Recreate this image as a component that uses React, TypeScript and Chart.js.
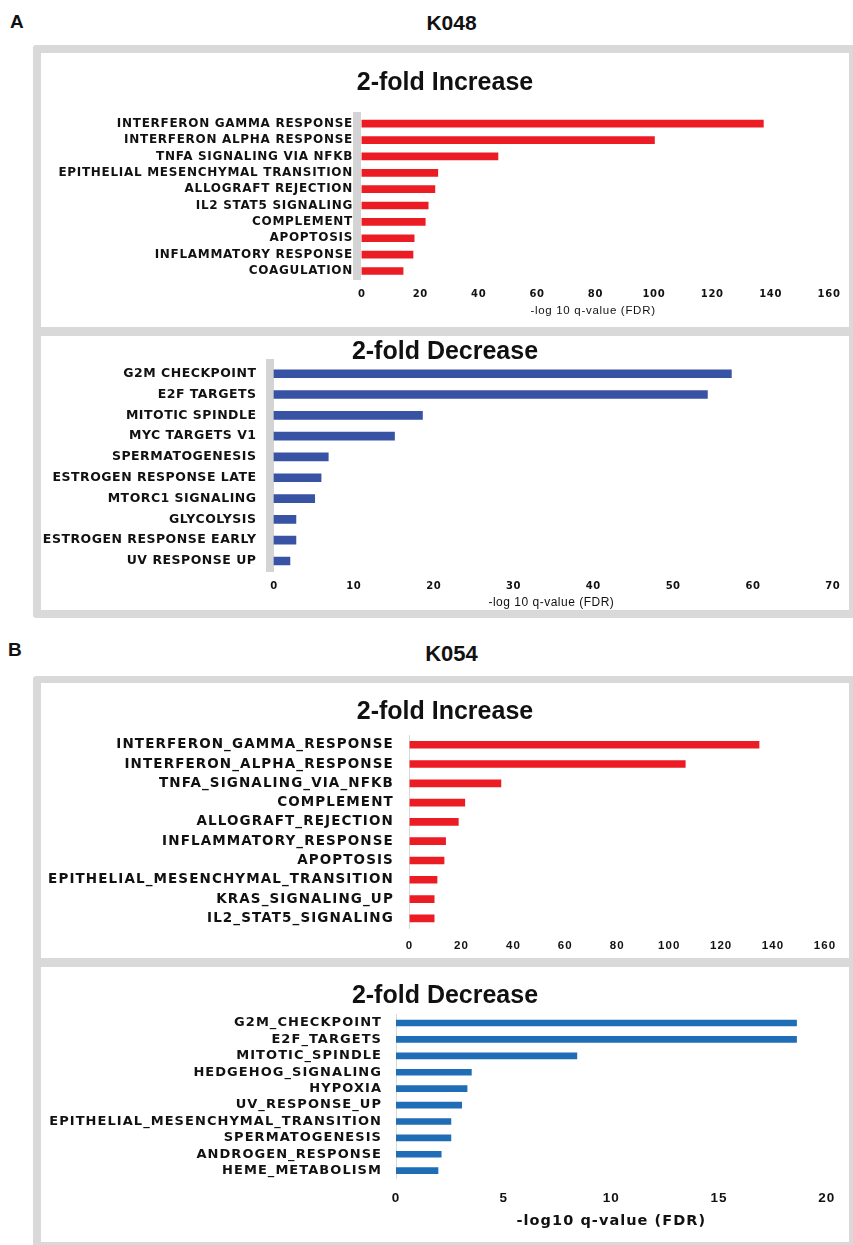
import React, { useEffect, useRef } from 'react';
import { Chart, registerables } from 'chart.js';

Chart.register(...registerables);

const FONT = '"Liberation Sans", Arial, Helvetica, sans-serif';
const WIDE = '"DejaVu Sans", "Liberation Sans", Arial, sans-serif';

// ---------- Data ----------
const k048UpLabels = [
  'INTERFERON GAMMA RESPONSE',
  'INTERFERON ALPHA RESPONSE',
  'TNFA SIGNALING VIA NFKB',
  'EPITHELIAL MESENCHYMAL TRANSITION',
  'ALLOGRAFT REJECTION',
  'IL2 STAT5 SIGNALING',
  'COMPLEMENT',
  'APOPTOSIS',
  'INFLAMMATORY RESPONSE',
  'COAGULATION',
];
const k048UpValues = [137.5, 100.2, 46.6, 26.0, 25.0, 22.7, 21.7, 17.9, 17.5, 14.1];
const k048UpTicks = [0, 20, 40, 60, 80, 100, 120, 140, 160];

const k048DownLabels = [
  'G2M CHECKPOINT',
  'E2F TARGETS',
  'MITOTIC SPINDLE',
  'MYC TARGETS V1',
  'SPERMATOGENESIS',
  'ESTROGEN RESPONSE LATE',
  'MTORC1 SIGNALING',
  'GLYCOLYSIS',
  'ESTROGEN RESPONSE EARLY',
  'UV RESPONSE UP',
];
const k048DownValues = [57.3, 54.3, 18.6, 15.1, 6.8, 5.9, 5.1, 2.75, 2.75, 2.0];
const k048DownTicks = [0, 10, 20, 30, 40, 50, 60, 70];

const k054UpLabels = [
  'INTERFERON_GAMMA_RESPONSE',
  'INTERFERON_ALPHA_RESPONSE',
  'TNFA_SIGNALING_VIA_NFKB',
  'COMPLEMENT',
  'ALLOGRAFT_REJECTION',
  'INFLAMMATORY_RESPONSE',
  'APOPTOSIS',
  'EPITHELIAL_MESENCHYMAL_TRANSITION',
  'KRAS_SIGNALING_UP',
  'IL2_STAT5_SIGNALING',
];
const k054UpValues = [134.6, 106.2, 35.2, 21.3, 18.8, 13.9, 13.3, 10.6, 9.5, 9.5];
const k054UpTicks = [0, 20, 40, 60, 80, 100, 120, 140, 160];

const k054DownLabels = [
  'G2M_CHECKPOINT',
  'E2F_TARGETS',
  'MITOTIC_SPINDLE',
  'HEDGEHOG_SIGNALING',
  'HYPOXIA',
  'UV_RESPONSE_UP',
  'EPITHELIAL_MESENCHYMAL_TRANSITION',
  'SPERMATOGENESIS',
  'ANDROGEN_RESPONSE',
  'HEME_METABOLISM',
];
const k054DownValues = [18.6, 18.6, 8.4, 3.5, 3.3, 3.05, 2.55, 2.55, 2.1, 1.95];
const k054DownTicks = [0, 5, 10, 15, 20];

// ---------- Styles ----------
const RED = '#ec1c24';
const BLUE_A = '#3852a4';
const BLUE_B = '#1f6db5';
const FRAME = '#d9d9d9';

interface PanelCfg {
  labels: string[];
  values: number[];
  ticks: number[];
  color: string;
  top: number;
  h: number;
  yWidth: number;
  padTop: number;
  padRight: number;
  xHeight: number;
  min: number;
  max: number;
  labelSize: number;
  spacing: number;
  yPad: number;
  tickSize: number;
  tickFamily: string;
  xPad: number;
  barThickness: number;
  borderWidth: number;
  borderColor: string;
  xTitle?: { text: string; size: number; bold: boolean; pb: number; family: string };
}

const spacingPlugin = {
  id: 'letterSpacing',
  beforeDraw(chart: any, _args: any, opts: any) {
    (chart.ctx as any).letterSpacing = (opts && opts.px ? opts.px : 0) + 'px';
  },
  afterDraw(chart: any) {
    (chart.ctx as any).letterSpacing = '0px';
  },
};

function BarPanel({ cfg }: { cfg: PanelCfg }) {
  const ref = useRef<HTMLCanvasElement>(null);
  useEffect(() => {
    if (!ref.current) return;
    const chart = new Chart(ref.current, {
      type: 'bar',
      data: {
        labels: cfg.labels,
        datasets: [
          {
            data: cfg.values,
            backgroundColor: cfg.color,
            borderWidth: 0,
            barThickness: cfg.barThickness,
          },
        ],
      },
      options: {
        indexAxis: 'y',
        responsive: false,
        animation: false,
        devicePixelRatio: 1,
        layout: { padding: { left: 0, top: cfg.padTop, right: cfg.padRight, bottom: 0 } },
        plugins: {
          legend: { display: false },
          tooltip: { enabled: false },
          title: { display: false },
          letterSpacing: { px: cfg.spacing },
        } as any,
        scales: {
          y: {
            grid: { display: false, drawTicks: false },
            border: { display: true, width: cfg.borderWidth, color: cfg.borderColor },
            ticks: {
              autoSkip: false,
              padding: cfg.yPad,
              color: '#111111',
              font: { family: WIDE, size: cfg.labelSize, weight: 'bold' },
            },
            afterFit: (s: any) => {
              s.width = cfg.yWidth;
            },
          },
          x: {
            type: 'linear',
            min: cfg.min,
            max: cfg.max,
            grid: { display: false, drawTicks: false },
            border: { display: false },
            ticks: {
              includeBounds: false,
              autoSkip: false,
              maxRotation: 0,
              minRotation: 0,
              padding: cfg.xPad,
              color: '#111111',
              font: { family: cfg.tickFamily, size: cfg.tickSize, weight: 'bold' },
            },
            afterBuildTicks: (s: any) => {
              s.ticks = cfg.ticks.map((v) => ({ value: v }));
            },
            afterFit: (s: any) => {
              s.height = cfg.xHeight;
            },
            title: cfg.xTitle
              ? {
                  display: true,
                  text: cfg.xTitle.text,
                  color: '#111111',
                  font: {
                    family: cfg.xTitle.family,
                    size: cfg.xTitle.size,
                    weight: cfg.xTitle.bold ? 'bold' : 'normal',
                  },
                  padding: { top: 0, bottom: cfg.xTitle.pb },
                }
              : { display: false },
          },
        } as any,
      },
      plugins: [spacingPlugin as any],
    });
    return () => chart.destroy();
  }, []);
  return (
    <canvas
      ref={ref}
      width={808}
      height={cfg.h}
      style={{ position: 'absolute', left: 41, top: cfg.top, width: 808, height: cfg.h }}
    />
  );
}

const panels: PanelCfg[] = [
  {
    labels: k048UpLabels,
    values: k048UpValues,
    ticks: k048UpTicks,
    color: RED,
    top: 53,
    h: 274,
    yWidth: 316,
    padTop: 62.5,
    padRight: 11,
    xHeight: 47.8,
    min: -1.68,
    max: 160,
    labelSize: 12,
    spacing: 0.7,
    yPad: 4,
    tickSize: 10,
    tickFamily: WIDE,
    xPad: 9.5,
    barThickness: 7,
    borderWidth: 8,
    borderColor: '#d4d4d4',
    xTitle: { text: '-log 10 q-value (FDR)', size: 11.5, bold: false, pb: 9, family: FONT },
  },
  {
    labels: k048DownLabels,
    values: k048DownValues,
    ticks: k048DownTicks,
    color: BLUE_A,
    top: 336,
    h: 274,
    yWidth: 229,
    padTop: 27.3,
    padRight: 15,
    xHeight: 38.6,
    min: -0.5,
    max: 70,
    labelSize: 12.5,
    spacing: 0.5,
    yPad: 13.5,
    tickSize: 10,
    tickFamily: WIDE,
    xPad: 9.3,
    barThickness: 8,
    borderWidth: 8,
    borderColor: '#d4d4d4',
    xTitle: { text: '-log 10 q-value (FDR)', size: 12, bold: false, pb: 0, family: FONT },
  },
  {
    labels: k054UpLabels,
    values: k054UpValues,
    ticks: k054UpTicks,
    color: RED,
    top: 683,
    h: 275,
    yWidth: 368.5,
    padTop: 52.1,
    padRight: 24,
    xHeight: 30,
    min: 0,
    max: 160,
    labelSize: 13.5,
    spacing: 1.1,
    yPad: 15.6,
    tickSize: 11.5,
    tickFamily: FONT,
    xPad: 11,
    barThickness: 7,
    borderWidth: 1,
    borderColor: '#d9d9d9',
  },
  {
    labels: k054DownLabels,
    values: k054DownValues,
    ticks: k054DownTicks,
    color: BLUE_B,
    top: 967,
    h: 275,
    yWidth: 355,
    padTop: 47.8,
    padRight: 22.3,
    xHeight: 63.1,
    min: 0,
    max: 20,
    labelSize: 13,
    spacing: 1.05,
    yPad: 14,
    tickSize: 13.5,
    tickFamily: FONT,
    xPad: 11,
    barThickness: 6,
    borderWidth: 1,
    borderColor: '#d9d9d9',
    xTitle: { text: '-log10 q-value (FDR)', size: 14.5, bold: true, pb: 12, family: WIDE },
  },
];

function Text({
  text,
  cx,
  cy,
  size,
  left,
}: {
  text: string;
  cx?: number;
  cy: number;
  size: number;
  left?: number;
}) {
  const style: React.CSSProperties = {
    position: 'absolute',
    top: cy - 0.49 * size,
    fontFamily: FONT,
    fontWeight: 'bold',
    fontSize: size,
    lineHeight: 1,
    height: size,
    color: '#111111',
    whiteSpace: 'nowrap',
  };
  if (left !== undefined) {
    style.left = left;
  } else {
    style.left = (cx as number) - 200;
    style.width = 400;
    style.textAlign = 'center';
  }
  return <div style={style}>{text}</div>;
}

export default function App() {
  return (
    <div
      style={{
        position: 'absolute',
        left: 0,
        top: 0,
        width: 853,
        height: 1245,
        background: '#ffffff',
        overflow: 'hidden',
      }}
    >
      <Text text="A" left={10} cy={21.7} size={19} />
      <Text text="K048" cx={451.5} cy={22.5} size={21} />
      <Text text="B" left={8} cy={649} size={19} />
      <Text text="K054" cx={451.5} cy={654} size={22} />

      {/* Frame A */}
      <div
        style={{
          position: 'absolute',
          left: 33,
          top: 45,
          width: 840,
          height: 573,
          background: FRAME,
          borderRadius: 3,
        }}
      />
      <div style={{ position: 'absolute', left: 41, top: 53, width: 808, height: 274, background: '#fff' }} />
      <div style={{ position: 'absolute', left: 41, top: 336, width: 808, height: 274, background: '#fff' }} />

      {/* Frame B */}
      <div
        style={{
          position: 'absolute',
          left: 33,
          top: 676,
          width: 840,
          height: 600,
          background: FRAME,
          borderRadius: 3,
        }}
      />
      <div style={{ position: 'absolute', left: 41, top: 683, width: 808, height: 275, background: '#fff' }} />
      <div style={{ position: 'absolute', left: 41, top: 967, width: 808, height: 275, background: '#fff' }} />

      {panels.map((p, i) => (
        <BarPanel key={i} cfg={p} />
      ))}

      <Text text="2-fold Increase" cx={445} cy={81} size={25} />
      <Text text="2-fold Decrease" cx={445} cy={350.5} size={25} />
      <Text text="2-fold Increase" cx={445} cy={710} size={25} />
      <Text text="2-fold Decrease" cx={445} cy={994} size={25} />
    </div>
  );
}
